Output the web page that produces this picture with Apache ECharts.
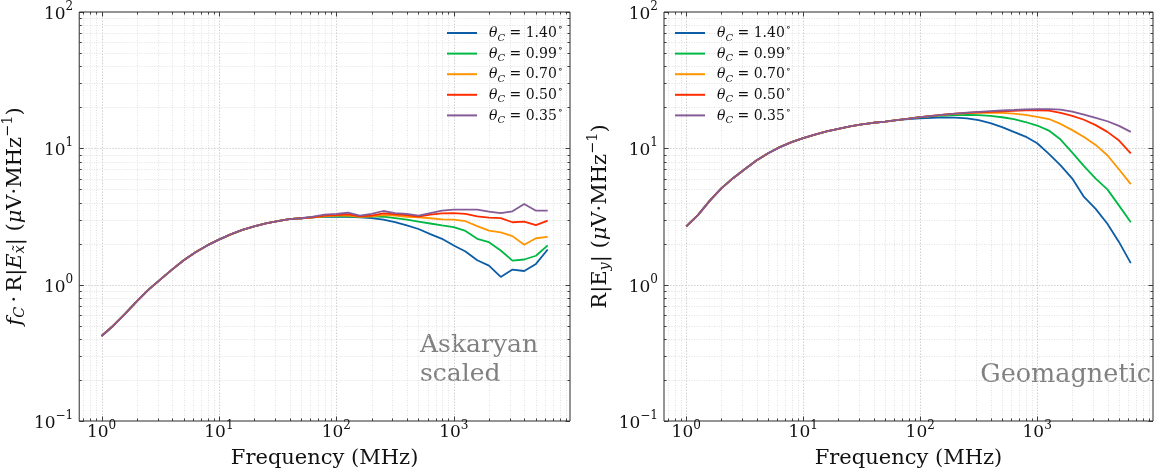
<!DOCTYPE html>
<html>
<head>
<meta charset="utf-8">
<script src="https://cdn.jsdelivr.net/npm/echarts@6/dist/echarts.min.js"></script>
<style>
  html, body { margin: 0; padding: 0; background: #ffffff; }
  #chart { width: 1159px; height: 474px; }
</style>
</head>
<body>
<div id="chart"></div>
<script>
// Frequencies sampled every 0.1 decade, 1 MHz .. 6.3 GHz
const freqMHz = [1, 1.259, 1.585, 1.995, 2.512, 3.162, 3.981, 5.012, 6.310, 7.943,
  10, 12.59, 15.85, 19.95, 25.12, 31.62, 39.81, 50.12, 63.10, 79.43,
  100, 125.9, 158.5, 199.5, 251.2, 316.2, 398.1, 501.2, 631.0, 794.3,
  1000, 1259, 1585, 1995, 2512, 3162, 3981, 5012, 6310];

const angleLabels = ['1.40', '0.99', '0.70', '0.50', '0.35'];
const lineColors = ['#0C5DA5', '#00B945', '#FF9500', '#FF2C00', '#845B97'];

// Askaryan component, scaled by f_C (uV/MHz)
const askaryan140 = [0.42, 0.50, 0.61, 0.755, 0.92, 1.09, 1.29, 1.51, 1.73, 1.94, 2.14, 2.34, 2.52, 2.68, 2.82, 2.93, 3.02,
  3.07, 3.12, 3.15, 3.15, 3.14, 3.12, 3.08, 3.00, 2.87, 2.72, 2.56, 2.35, 2.17, 1.94, 1.75, 1.51, 1.38, 1.14, 1.29, 1.26, 1.42, 1.81];
const askaryan099 = [0.42, 0.50, 0.61, 0.755, 0.92, 1.09, 1.29, 1.51, 1.73, 1.94, 2.14, 2.34, 2.52, 2.68, 2.82, 2.93, 3.02,
  3.07, 3.12, 3.17, 3.17, 3.17, 3.15, 3.17, 3.15, 3.08, 3.00, 2.90, 2.81, 2.72, 2.64, 2.48, 2.17, 2.05, 1.78, 1.50, 1.53, 1.63, 1.94];
const askaryan070 = [0.42, 0.50, 0.61, 0.755, 0.92, 1.09, 1.29, 1.51, 1.73, 1.94, 2.14, 2.34, 2.52, 2.68, 2.82, 2.93, 3.02,
  3.07, 3.12, 3.17, 3.21, 3.21, 3.15, 3.17, 3.24, 3.21, 3.15, 3.12, 3.07, 3.01, 3.00, 2.92, 2.69, 2.49, 2.42, 2.27, 1.96, 2.19, 2.24];
const askaryan050 = [0.42, 0.50, 0.61, 0.755, 0.92, 1.09, 1.29, 1.51, 1.73, 1.94, 2.14, 2.34, 2.52, 2.68, 2.82, 2.93, 3.02,
  3.07, 3.12, 3.21, 3.24, 3.28, 3.17, 3.21, 3.33, 3.28, 3.24, 3.15, 3.26, 3.33, 3.35, 3.31, 3.17, 3.10, 3.08, 2.87, 2.90, 2.73, 2.95];
const askaryan035 = [0.42, 0.50, 0.61, 0.755, 0.92, 1.09, 1.29, 1.51, 1.73, 1.94, 2.14, 2.34, 2.52, 2.68, 2.82, 2.93, 3.02,
  3.07, 3.15, 3.26, 3.31, 3.37, 3.21, 3.30, 3.47, 3.35, 3.31, 3.21, 3.35, 3.49, 3.55, 3.55, 3.55, 3.43, 3.35, 3.45, 3.90, 3.49, 3.49];

// Geomagnetic component (uV/MHz)
const geomag140 = [2.68, 3.24, 4.12, 5.08, 6.04, 7.03, 8.13, 9.20, 10.2, 11.1, 11.9, 12.6, 13.3, 13.9, 14.5, 15.0, 15.4, 15.7, 16.1,
  16.4, 16.6, 16.75, 16.85, 16.8, 16.6, 16.1, 15.3, 14.3, 13.2, 12.2, 10.9, 9.1, 7.5, 6.0, 4.4, 3.6, 2.8, 2.05, 1.44];
const geomag099 = [2.68, 3.24, 4.12, 5.08, 6.04, 7.03, 8.13, 9.20, 10.2, 11.1, 11.9, 12.6, 13.3, 13.9, 14.5, 15.0, 15.4, 15.7, 16.1,
  16.5, 16.9, 17.2, 17.4, 17.5, 17.6, 17.5, 17.3, 16.9, 16.4, 15.6, 14.7, 13.5, 11.6, 9.3, 7.4, 6.0, 5.0, 3.8, 2.87];
const geomag070 = [2.68, 3.24, 4.12, 5.08, 6.04, 7.03, 8.13, 9.20, 10.2, 11.1, 11.9, 12.6, 13.3, 13.9, 14.5, 15.0, 15.4, 15.7, 16.1,
  16.5, 16.95, 17.3, 17.6, 17.9, 18.1, 18.2, 18.2, 18.2, 18.0, 17.6, 17.0, 16.4, 15.1, 13.6, 12.1, 10.6, 8.9, 7.0, 5.46];
const geomag050 = [2.68, 3.24, 4.12, 5.08, 6.04, 7.03, 8.13, 9.20, 10.2, 11.1, 11.9, 12.6, 13.3, 13.9, 14.5, 15.0, 15.4, 15.7, 16.1,
  16.5, 16.95, 17.3, 17.65, 17.95, 18.2, 18.4, 18.5, 18.65, 18.85, 19.0, 19.0, 18.9, 18.2, 17.3, 16.2, 14.8, 13.2, 11.4, 9.2];
const geomag035 = [2.68, 3.24, 4.12, 5.08, 6.04, 7.03, 8.13, 9.20, 10.2, 11.1, 11.9, 12.6, 13.3, 13.9, 14.5, 15.0, 15.4, 15.7, 16.1,
  16.5, 16.95, 17.3, 17.65, 17.95, 18.25, 18.5, 18.75, 18.95, 19.1, 19.3, 19.4, 19.4, 19.2, 18.6, 17.7, 16.7, 15.8, 14.6, 13.2];

const askaryanSets = [askaryan140, askaryan099, askaryan070, askaryan050, askaryan035];
const geomagSets = [geomag140, geomag099, geomag070, geomag050, geomag035];

// Axis ranges and labelled decades (powers of ten)
const X_MIN = 0.6457, X_MAX = 9772;
const Y_MIN = 0.1, Y_MAX = 100;
const xLabelDecades = [0, 1, 2, 3];
const yLabelDecades = [-1, 0, 1, 2];
const xTickDecades = [-1, 0, 1, 2, 3];
const yTickDecades = [-1, 0, 1, 2];
const minorMultiples = [2, 3, 4, 5, 6, 7, 8, 9];

const SERIF = 'DejaVu Serif';
const INK = '#111111';
const FRAME = '#2a2a2a';
const GRAY_TEXT = '#808080';

const seriesNames = angleLabels.map(a => 'theta_C=' + a);

function powerLabel(v, decades) {
  const e = Math.round(Math.log10(v));
  const p = Math.pow(10, e);
  if (Math.abs(v - p) > 1e-6 * p || decades.indexOf(e) < 0) return '';
  const exp = e < 0 ? '\u2212' + (-e) : String(e);
  return '{b|10}{s|' + exp + '}';
}
const tickRich = {
  b: { fontFamily: SERIF, fontSize: 17, color: INK, lineHeight: 17, padding: [5, 0, 0, 0] },
  s: { fontFamily: SERIF, fontSize: 12, color: INK, lineHeight: 12, padding: [0, 0, 10, 0] }
};

// Tick positions (major = powers of ten, minor = 2..9 multiples)
function tickList(decades, lo, hi) {
  const out = [];
  decades.forEach(d => {
    const p = Math.pow(10, d);
    if (p >= lo && p <= hi) out.push({ v: p, major: 1 });
    minorMultiples.forEach(m => {
      const v = m * p;
      if (v > lo && v < hi) out.push({ v: v, major: 0 });
    });
  });
  return out;
}
const xTicks = tickList(xTickDecades, X_MIN, X_MAX);
const yTicks = tickList(yTickDecades, Y_MIN, Y_MAX);

const majorGrid = { stroke: '#c4c4c4', lineWidth: 0.8, lineDash: [1.5, 1.5] };
const minorGrid = { stroke: '#d6d6d6', lineWidth: 0.7, lineDash: [1, 1.5] };
const tickStyle = { stroke: FRAME, lineWidth: 0.9 };
const crisp = x => Math.round(x) + 0.5;

function xTickItem(params, api) {
  const v = api.value(0), major = api.value(2);
  const b = api.coord([v, Y_MIN]), t = api.coord([v, Y_MAX]);
  const x = crisp(b[0]);
  const len = major ? 4.5 : 2.5;
  const kids = [];
  const edge = v <= X_MIN * 1.0001 || v >= X_MAX * 0.9999;
  if (!edge) {
    kids.push({ type: 'line', shape: { x1: x, y1: b[1], x2: x, y2: t[1] }, style: major ? majorGrid : minorGrid });
  }
  kids.push({ type: 'line', shape: { x1: x, y1: b[1], x2: x, y2: b[1] - len }, style: tickStyle });
  kids.push({ type: 'line', shape: { x1: x, y1: t[1], x2: x, y2: t[1] + len }, style: tickStyle });
  return { type: 'group', children: kids };
}
function yTickItem(params, api) {
  const v = api.value(1), major = api.value(2);
  const l = api.coord([X_MIN, v]), r = api.coord([X_MAX, v]);
  const y = crisp(l[1]);
  const len = major ? 4.5 : 2.5;
  const kids = [];
  const edge = v <= Y_MIN * 1.0001 || v >= Y_MAX * 0.9999;
  if (!edge) {
    kids.push({ type: 'line', shape: { x1: l[0], y1: y, x2: r[0], y2: y }, style: major ? majorGrid : minorGrid });
  }
  kids.push({ type: 'line', shape: { x1: l[0], y1: y, x2: l[0] + len, y2: y }, style: tickStyle });
  kids.push({ type: 'line', shape: { x1: r[0], y1: y, x2: r[0] - len, y2: y }, style: tickStyle });
  return { type: 'group', children: kids };
}

const legendRich = {
  t: { fontFamily: SERIF, fontStyle: 'italic', fontSize: 14, color: INK, lineHeight: 15, padding: [3, 0, 2, 7] },
  c: { fontFamily: SERIF, fontStyle: 'italic', fontSize: 10, color: INK, lineHeight: 10, padding: [10, 0, 0, 0] },
  n: { fontFamily: SERIF, fontSize: 14, color: INK, lineHeight: 15, padding: [3, 0, 2, 0] },
  d: { fontFamily: SERIF, fontSize: 9.5, color: INK, lineHeight: 10, padding: [0, 0, 10, 1] }
};
function legendText(name) {
  const a = angleLabels[seriesNames.indexOf(name)];
  return '{t|\u03b8}{c|C}{n| = ' + a + '}{d|\u2218}';
}

const nameRich = {
  i: { fontFamily: SERIF, fontStyle: 'italic', fontSize: 21, color: INK, lineHeight: 23, padding: [3, 0, 3, 0] },
  r: { fontFamily: SERIF, fontSize: 21, color: INK, lineHeight: 23, padding: [3, 0, 3, 0] },
  sub: { fontFamily: SERIF, fontStyle: 'italic', fontSize: 14.5, color: INK, lineHeight: 15, padding: [12, 0, 2, 0] },
  sup: { fontFamily: SERIF, fontSize: 14.5, color: INK, lineHeight: 15, padding: [0, 0, 14, 0] }
};
const leftYName = '{i|f}{sub|C}{r|\u2009\u00b7\u2009R|}{i|E}{sub|x\u0303}{r|| (}{i|\u03bc}{r|V\u00b7MHz}{sup|\u22121}{r|)}';
const rightYName = '{r|R|E}{sub|y}{r|| (}{i|\u03bc}{r|V\u00b7MHz}{sup|\u22121}{r|)}';

const grids = [
  { left: 79, top: 12, width: 491, height: 411 },
  { left: 664, top: 12, width: 489, height: 411 }
];

function makeXAxis(i) {
  return {
    type: 'log', logBase: 10, gridIndex: i, min: X_MIN, max: X_MAX,
    axisLine: { show: false }, axisTick: { show: false }, splitLine: { show: false },
    axisLabel: { margin: 1, formatter: v => powerLabel(v, xLabelDecades), rich: tickRich },
    name: 'Frequency (MHz)', nameLocation: 'middle', nameGap: 27,
    nameTextStyle: { fontFamily: SERIF, fontSize: 21, color: INK, lineHeight: 21 }
  };
}
function makeYAxis(i, title, gap) {
  return {
    type: 'log', logBase: 10, gridIndex: i, min: Y_MIN, max: Y_MAX,
    axisLine: { show: false }, axisTick: { show: false }, splitLine: { show: false },
    axisLabel: { margin: 6, formatter: v => powerLabel(v, yLabelDecades), rich: tickRich },
    name: title, nameLocation: 'middle', nameGap: gap, nameRotate: 90,
    nameTextStyle: { rich: nameRich }
  };
}

const series = [];
[0, 1].forEach(p => {
  series.push({
    type: 'custom', xAxisIndex: p, yAxisIndex: p, silent: true, z: 1, clip: false,
    renderItem: xTickItem, data: xTicks.map(t => [t.v, 1, t.major])
  });
  series.push({
    type: 'custom', xAxisIndex: p, yAxisIndex: p, silent: true, z: 1, clip: false,
    renderItem: yTickItem, data: yTicks.map(t => [1, t.v, t.major])
  });
  const sets = p === 0 ? askaryanSets : geomagSets;
  sets.forEach((vals, i) => {
    series.push({
      type: 'line', name: seriesNames[i], xAxisIndex: p, yAxisIndex: p,
      data: freqMHz.map((f, k) => [f, vals[k]]),
      symbol: 'none', smooth: false, z: 3 + i,
      lineStyle: { color: lineColors[i], width: 1.8 },
      itemStyle: { color: lineColors[i] }
    });
  });
});

const legendBase = {
  data: seriesNames, orient: 'vertical', top: 23, padding: 0,
  icon: 'rect', itemWidth: 30, itemHeight: 2, itemGap: 0.6, selectedMode: false,
  formatter: legendText, textStyle: { rich: legendRich }
};

const option = {
  animation: false,
  backgroundColor: '#ffffff',
  textStyle: { fontFamily: SERIF },
  grid: grids.map(g => Object.assign({ show: true, borderColor: FRAME, borderWidth: 1, backgroundColor: 'transparent' }, g)),
  xAxis: [makeXAxis(0), makeXAxis(1)],
  yAxis: [makeYAxis(0, leftYName, 31), makeYAxis(1, rightYName, 40)],
  legend: [
    Object.assign({ left: 447 }, legendBase),
    Object.assign({ left: 675 }, legendBase)
  ],
  graphic: [
    { type: 'text', left: 420, top: 331, silent: true,
      style: { text: 'Askaryan\nscaled', font: '25px "DejaVu Serif"', fill: GRAY_TEXT, lineHeight: 29 } },
    { type: 'text', right: 8, top: 362, silent: true,
      style: { text: 'Geomagnetic', font: '25.5px "DejaVu Serif"', fill: GRAY_TEXT } }
  ],
  series: series
};

const chart = echarts.init(document.getElementById('chart'));
chart.setOption(option);
</script>
</body>
</html>
